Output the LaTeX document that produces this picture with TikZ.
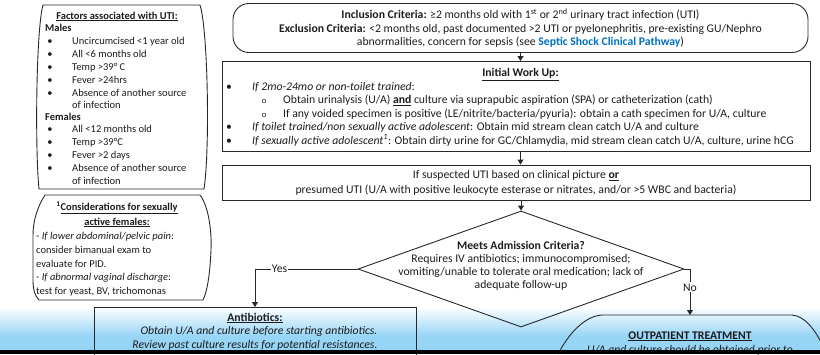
\documentclass[tikz,border=0pt]{standalone}
\usepackage{fontspec}
\setmainfont{Carlito}
\usetikzlibrary{arrows.meta,shapes.geometric}
\definecolor{ink}{RGB}{28,28,28}
\definecolor{edge}{RGB}{40,40,40}
\definecolor{linkblue}{RGB}{0,112,192}
\definecolor{skyband}{RGB}{151,213,247}
\begin{document}
\begin{tikzpicture}[x=1pt,y=-1pt,
  outline/.style={draw=edge, line width=0.9pt},
  flow/.style={outline, -{Triangle[length=5pt,width=6pt]}},
  txt/.style={inner sep=0pt, anchor=base, text=ink, font=\fontsize{11.7}{13.5}\selectfont},
  ltxt/.style={txt, anchor=base west},
  sidetxt/.style={font=\fontsize{10.5}{12.5}\selectfont},
  lbl/.style={fill=white, inner sep=1.2pt, text=ink, font=\fontsize{11.7}{13.5}\selectfont},
  box/.style={outline, rectangle, inner sep=0pt},
  subdot/.style={txt, font=\fontsize{8.5}{9}\selectfont},
]
\useasboundingbox (0,0) rectangle (820,354);

% sky-blue band along the lower edge
\shade[top color=white, bottom color=skyband] (0,307) rectangle (820,336);
\fill[skyband] (0,335.8) rectangle (820,351);

% ---- risk-factor panel ----
\draw[outline] (43,5) -- (200,5)
  .. controls (208,30) and (210,150) .. (204,189)
  -- (39,189)
  .. controls (35,150) and (36,30) .. cycle;
\node[txt, sidetxt] (fttl) at (117,19) {\textbf{\underline{Factors associated with UTI:}}};
\node[ltxt, sidetxt] (fm) at (45,31.5) {\textbf{Males}};
\foreach \y/\t [count=\i] in {44/Uncircumcised <1 year old, 57/All <6 months old, 70/Temp >39° C, 83/Fever >24hrs, 96/Absence of another source}{
  \node[txt, sidetxt] (fmb\i) at (50,\y) {\textbullet};
  \node[ltxt, sidetxt] (fmt\i) at (72,\y) {\t};
}
\node[ltxt, sidetxt] (fmt6) at (72,108.5) {of infection};
\node[ltxt, sidetxt] (ff) at (45,120.5) {\textbf{Females}};
\foreach \y/\t [count=\i] in {132.5/All <12 months old, 145.5/Temp >39°C, 158.5/Fever >2 days, 171.5/Absence of another source}{
  \node[txt, sidetxt] (ffb\i) at (50,\y) {\textbullet};
  \node[ltxt, sidetxt] (fft\i) at (72,\y) {\t};
}
\node[ltxt, sidetxt] (fft5) at (72,184.5) {of infection};

% ---- sexually active females panel ----
\draw[outline] (45,195) -- (200,195)
  .. controls (208,205) and (212,230) .. (211,250)
  .. controls (210,275) and (207,292) .. (203,300)
  -- (39,300)
  .. controls (35,296) and (33,290) .. (33,280)
  -- (33,235)
  .. controls (33,220) and (38,206) .. cycle;
\node[txt, sidetxt] (c1) at (117,210.5) {\textbf{\textsuperscript{1}\underline{Considerations for sexually}}};
\node[txt, sidetxt] (c2) at (117,225) {\textbf{\underline{active females:}}};
\node[ltxt, sidetxt] (c3) at (36,239.5) {- \textit{If lower abdominal/pelvic pain}:};
\node[ltxt, sidetxt] (c4) at (36,253.5) {consider bimanual exam to};
\node[ltxt, sidetxt] (c5) at (36,267) {evaluate for PID.};
\node[ltxt, sidetxt] (c6) at (36,280.5) {- \textit{If abnormal vaginal discharge}:};
\node[ltxt, sidetxt] (c7) at (36,294) {test for yeast, BV, trichomonas};

% ---- criteria ----
\node[box, rounded corners=16pt, minimum width=575, minimum height=49] (incl) at (520.5,28) {};
\node[txt] (i1) at (520.5,18.5) {\textbf{Inclusion Criteria:} ≥2 months old with 1\textsuperscript{st} or 2\textsuperscript{nd} urinary tract infection (UTI)};
\node[txt] (i2) at (520.5,32) {\textbf{Exclusion Criteria:} <2 months old, past documented >2 UTI or pyelonephritis, pre-existing GU/Nephro};
\node[txt] (i3) at (520.5,45.5) {abnormalities, concern for sepsis (see \textcolor{linkblue}{\textbf{Septic Shock Clinical Pathway}})};

% ---- initial work up ----
\node[box, minimum width=588, minimum height=90] (work) at (516,106.5) {};
\node[txt] (wt) at (520.5,76.5) {\textbf{\underline{Initial Work Up:}}};
\node[txt] (wb1) at (229,90) {\textbullet};
\node[ltxt] (w1) at (252,90) {\textit{If 2mo-24mo or non-toilet trained}:};
\node[subdot] (wo1) at (264,103.5) {o};
\node[ltxt] (w2) at (283,103.5) {Obtain urinalysis (U/A) \textbf{\underline{and}} culture via suprapubic aspiration (SPA) or catheterization (cath)};
\node[subdot] (wo2) at (264,117) {o};
\node[ltxt] (w3) at (283,117) {If any voided specimen is positive (LE/nitrite/bacteria/pyuria): obtain a cath specimen for U/A, culture};
\node[txt] (wb2) at (229,130.5) {\textbullet};
\node[ltxt] (w4) at (252,130.5) {\textit{If toilet trained/non sexually active adolescent}: Obtain mid stream clean catch U/A and culture};
\node[txt] (wb3) at (229,144) {\textbullet};
\node[ltxt] (w5) at (252,144) {\textit{If sexually active adolescent\textsuperscript{1}}: Obtain dirty urine for GC/Chlamydia, mid stream clean catch U/A, culture, urine hCG};

% ---- suspected / presumed UTI ----
\node[box, minimum width=588, minimum height=35] (susp) at (516,182.5) {};
\node[txt] (s1) at (516,178.5) {If suspected UTI based on clinical picture \textbf{\underline{or}}};
\node[txt] (s2) at (516,193) {presumed UTI (U/A with positive leukocyte esterase or nitrates, and/or >5 WBC and bacteria)};

% ---- admission decision ----
\node[outline, diamond, minimum width=326, minimum height=116, inner sep=0pt] (dia) at (521,269) {};
\node[txt] (d1) at (521,249.5) {\textbf{Meets Admission Criteria?}};
\node[txt] (d2) at (521,262.5) {Requires IV antibiotics; immunocompromised;};
\node[txt] (d3) at (521,275.5) {vomiting/unable to tolerate oral medication; lack of};
\node[txt] (d4) at (521,288.5) {adequate follow-up};

% ---- antibiotics ----
\node[box, minimum width=322, minimum height=60, anchor=north] (abx) at (255,307) {};
\node[txt] (a1) at (255,321) {\textbf{\underline{Antibiotics:}}};
\node[txt] (a2) at (259,334.5) {\textit{Obtain U/A and culture before starting antibiotics.}};
\node[txt] (a3) at (255,348.5) {\textit{Review past culture results for potential resistances.}};

% ---- outpatient treatment ----
\coordinate (outtop) at (690,315);
\draw[outline] (558,354) .. controls (568,335) and (584,316) .. (602,315)
  -- (792,315) .. controls (805,316) and (815,330) .. (822,344);
\node[txt] (o1) at (690,339) {\textbf{\underline{OUTPATIENT TREATMENT}}};
\node[txt] (o2) at (690,353) {\textit{U/A and culture should be obtained prior to}};

% ---- connectors ----
\draw[flow] (incl.south) -- (incl.south |- work.north);
\draw[flow] (work.south -| incl.south) -- (incl.south |- susp.north);
\draw[flow] (susp.south -| dia.north) -- (dia.north);
\draw[flow] (dia.west) -| node[lbl, pos=0.38] (yes) {Yes} (abx.north);
\draw[flow] (dia.east) -| node[lbl, pos=0.7] (no) {No} (outtop);

% bottom strip
\fill[black] (0,350) rectangle (820,354);
\end{tikzpicture}
\end{document}
